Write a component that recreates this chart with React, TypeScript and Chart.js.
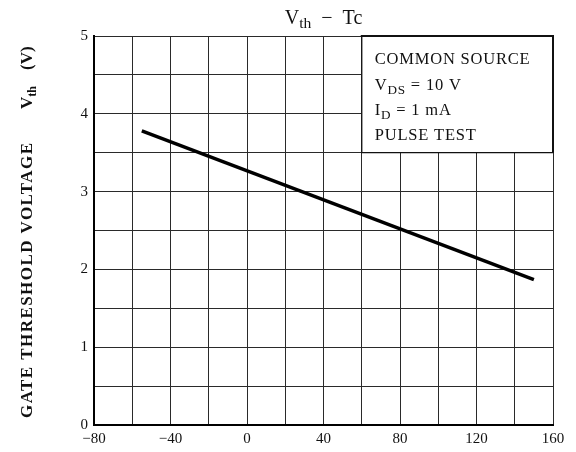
import React, { useEffect, useRef } from "react";
import { Chart, registerables } from "chart.js";

Chart.register(...registerables);

// ---- data ----
const caseTempC: number[] = [-55, 150];
const gateThresholdV: number[] = [3.78, 1.87];

const xLabeledTicks: number[] = [-80, -40, 0, 40, 80, 120, 160];
const yLabeledTicks: number[] = [0, 1, 2, 3, 4, 5];

const titleMain = "V";
const titleSub = "th";
const titleRest = "  \u2212  Tc";

const yTitleMain = "GATE THRESHOLD VOLTAGE";
const yTitleSymbol = "V";
const yTitleSub = "th";
const yTitleUnit = "(V)";

type Part = { t: string; sub?: boolean };
const conditionLines: Part[][] = [
  [{ t: "COMMON SOURCE" }],
  [{ t: "V" }, { t: "DS", sub: true }, { t: " = 10 V" }],
  [{ t: "I" }, { t: "D", sub: true }, { t: " = 1 mA" }],
  [{ t: "PULSE TEST" }],
];

const SERIF = '"Liberation Serif", "DejaVu Serif", serif';
const INK = "#111";

function drawParts(ctx: CanvasRenderingContext2D, parts: Part[], x: number, y: number, size: number, spacing: number) {
  let cx = x;
  for (const p of parts) {
    const s = p.sub ? size * 0.8 : size;
    ctx.font = `${s}px ${SERIF}`;
    (ctx as any).letterSpacing = `${spacing}px`;
    ctx.fillText(p.t, cx, p.sub ? y + size * 0.3 : y);
    cx += ctx.measureText(p.t).width;
  }
  (ctx as any).letterSpacing = "0px";
}

const overlayPlugin = {
  id: "overlay",
  afterDatasetsDraw(chart: any) {
    const ctx: CanvasRenderingContext2D = chart.ctx;
    const xs = chart.scales.x;
    const ys = chart.scales.y;
    const area = chart.chartArea;
    ctx.save();
    // conditions box
    const bx = xs.getPixelForValue(60);
    const by = ys.getPixelForValue(3.5);
    ctx.fillStyle = "#fff";
    ctx.fillRect(bx, area.top, area.right - bx, by - area.top);
    ctx.strokeStyle = INK;
    ctx.lineWidth = 1.3;
    ctx.beginPath();
    ctx.moveTo(bx, area.top);
    ctx.lineTo(bx, by);
    ctx.lineTo(area.right, by);
    ctx.stroke();
    ctx.lineWidth = 2;
    ctx.beginPath();
    ctx.moveTo(bx - 1, area.top);
    ctx.lineTo(area.right, area.top);
    ctx.lineTo(area.right, by);
    ctx.stroke();

    ctx.fillStyle = INK;
    ctx.textBaseline = "middle";
    ctx.textAlign = "left";
    const lineGap = 25.3;
    conditionLines.forEach((parts, i) => {
      drawParts(ctx, parts, bx + 13, area.top + 24 + lineGap * i, 16.5, 0.8);
    });

    // title
    ctx.textBaseline = "alphabetic";
    const tSize = 20;
    ctx.font = `${tSize}px ${SERIF}`;
    const w1 = ctx.measureText(titleMain).width;
    ctx.font = `${tSize * 0.78}px ${SERIF}`;
    const w2 = ctx.measureText(titleSub).width;
    ctx.font = `${tSize}px ${SERIF}`;
    const w3 = ctx.measureText(titleRest).width;
    const tcx = (area.left + area.right) / 2;
    let tx = tcx - (w1 + w2 + w3) / 2;
    ctx.fillText(titleMain, tx, 24);
    tx += w1;
    ctx.font = `${tSize * 0.78}px ${SERIF}`;
    ctx.fillText(titleSub, tx, 28);
    tx += w2;
    ctx.font = `${tSize}px ${SERIF}`;
    ctx.fillText(titleRest, tx, 24);

    // y axis title (rotated)
    ctx.translate(32, 418);
    ctx.rotate(-Math.PI / 2);
    const ySize = 17;
    ctx.font = `bold ${ySize}px ${SERIF}`;
    const natural = ctx.measureText(yTitleMain).width;
    const target = 275;
    const spacing = (target - natural) / (yTitleMain.length - 1);
    (ctx as any).letterSpacing = `${spacing}px`;
    ctx.fillText(yTitleMain, 0, 0);
    (ctx as any).letterSpacing = "0px";
    ctx.fillText(yTitleSymbol, 309, 0);
    const vw = ctx.measureText(yTitleSymbol).width;
    ctx.font = `bold ${ySize * 0.72}px ${SERIF}`;
    ctx.fillText(yTitleSub, 309 + vw, 4);
    ctx.font = `bold ${ySize}px ${SERIF}`;
    ctx.fillText(yTitleUnit, 348, 0);
    ctx.restore();
  },
};

export default function App() {
  const canvasRef = useRef<HTMLCanvasElement | null>(null);

  useEffect(() => {
    if (!canvasRef.current) return;
    const points = caseTempC.map((x, i) => ({ x, y: gateThresholdV[i] }));
    const chart = new Chart(canvasRef.current, {
      type: "line",
      data: {
        datasets: [
          {
            data: points,
            borderColor: "#000",
            borderWidth: 3.5,
            pointRadius: 0,
            fill: false,
            tension: 0,
          },
        ],
      },
      options: {
        animation: false,
        responsive: false,
        devicePixelRatio: 1,
        layout: { padding: { top: 36, right: 23, left: 0, bottom: 0 } },
        plugins: {
          legend: { display: false },
          title: { display: false },
          tooltip: { enabled: false },
        },
        scales: {
          x: {
            type: "linear",
            min: -80,
            max: 160,
            afterFit: (s: any) => {
              s.height = 27;
            },
            ticks: {
              stepSize: 20,
              autoSkip: false,
              maxRotation: 0,
              padding: 5,
              color: INK,
              font: { family: SERIF, size: 15 },
              callback: (v: any) => {
                const n = Number(v);
                if (!xLabeledTicks.includes(n)) return "";
                return n < 0 ? "\u2212" + Math.abs(n) : String(n);
              },
            },
            grid: { color: "#2a2a2a", lineWidth: 1, drawTicks: false },
            border: { color: "#000", width: 2 },
          },
          y: {
            type: "linear",
            min: 0,
            max: 5,
            afterFit: (s: any) => {
              s.width = 94;
            },
            ticks: {
              stepSize: 0.5,
              autoSkip: false,
              padding: 6,
              color: INK,
              font: { family: SERIF, size: 15 },
              callback: (v: any) => {
                const n = Number(v);
                return yLabeledTicks.includes(n) ? String(n) : "";
              },
            },
            grid: { color: "#2a2a2a", lineWidth: 1, drawTicks: false },
            border: { color: "#000", width: 2 },
          },
        },
      },
      plugins: [overlayPlugin],
    });
    return () => chart.destroy();
  }, []);

  return (
    <div style={{ position: "fixed", left: 0, top: 0, width: 576, height: 452, background: "#fff" }}>
      <canvas ref={canvasRef} width={576} height={452} style={{ display: "block" }} />
    </div>
  );
}
